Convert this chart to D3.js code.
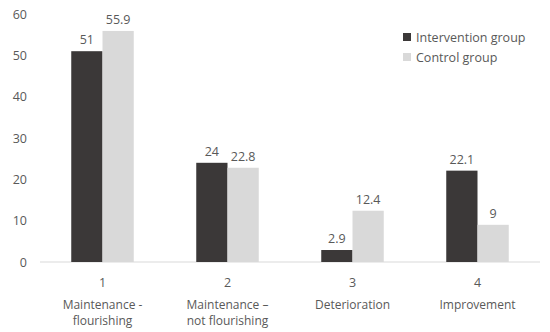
<!DOCTYPE html>
<html>
<head>
<meta charset="utf-8">
<script src="https://cdn.jsdelivr.net/npm/d3@7"></script>
<style>
  body { margin: 0; background: #fff; }
  text { font-family: "Open Sans", sans-serif; fill: #595959; }
</style>
</head>
<body>
<div id="chart"></div>
<script>
// Данные графика
const categories = ["1", "2", "3", "4"];
const categoryNames = [["Maintenance -", "flourishing"], ["Maintenance \u2013", "not flourishing"], ["Deterioration"], ["Improvement"]];
const seriesNames = ["Intervention group", "Control group"];
const intervention = [51, 24, 2.9, 22.1];
const control = [55.9, 22.8, 12.4, 9];
const yTicks = [0, 10, 20, 30, 40, 50, 60];

const width = 550, height = 332;
const colors = ["#3b3838", "#d9d9d9"];

const svg = d3.select("#chart").append("svg")
    .attr("width", width)
    .attr("height", height);

const x = d3.scaleBand()
    .domain(categories)
    .range([40, 540])
    .paddingInner(0)
    .paddingOuter(0);

const x1 = d3.scaleBand()
    .domain(seriesNames)
    .range([0, x.bandwidth()])
    .paddingInner(0)
    .paddingOuter(1);

const y = d3.scaleLinear()
    .domain([0, 60])
    .range([262, 14]);

// Подписи оси Y
svg.append("g")
    .selectAll("text")
    .data(yTicks)
    .enter().append("text")
    .attr("x", 27)
    .attr("y", d => y(d) + 4.5)
    .attr("text-anchor", "end")
    .style("font-size", "12.5px")
    .text(d => d);

// Базовая линия
svg.append("line")
    .attr("x1", 40).attr("x2", 540)
    .attr("y1", y(0)).attr("y2", y(0))
    .attr("stroke", "#d9d9d9")
    .attr("stroke-width", 1);

const rows = categories.map((c, i) => ({
    cat: c,
    values: [
        { s: seriesNames[0], v: intervention[i], c: colors[0] },
        { s: seriesNames[1], v: control[i], c: colors[1] }
    ]
}));

const groups = svg.append("g")
    .selectAll("g")
    .data(rows)
    .enter().append("g")
    .attr("transform", d => `translate(${x(d.cat)},0)`);

groups.selectAll("rect")
    .data(d => d.values)
    .enter().append("rect")
    .attr("x", d => x1(d.s))
    .attr("y", d => y(d.v))
    .attr("width", x1.bandwidth())
    .attr("height", d => y(0) - y(d.v))
    .attr("fill", d => d.c);

groups.selectAll("text.val")
    .data(d => d.values)
    .enter().append("text")
    .attr("class", "val")
    .attr("x", d => x1(d.s) + x1.bandwidth() / 2)
    .attr("y", d => y(d.v) - 7)
    .attr("text-anchor", "middle")
    .style("font-size", "12.5px")
    .text(d => d.v);

// Подписи категорий
svg.append("g")
    .selectAll("text")
    .data(categories)
    .enter().append("text")
    .attr("x", d => x(d) + x.bandwidth() / 2)
    .attr("y", 287)
    .attr("text-anchor", "middle")
    .style("font-size", "12.5px")
    .text(d => d);

const names = svg.append("g")
    .selectAll("text")
    .data(categories)
    .enter().append("text")
    .attr("x", d => x(d) + x.bandwidth() / 2)
    .attr("y", 309)
    .attr("text-anchor", "middle")
    .style("font-size", "12px");

names.selectAll("tspan")
    .data((d, i) => categoryNames[i])
    .enter().append("tspan")
    .attr("x", function() { return d3.select(this.parentNode).attr("x"); })
    .attr("dy", (d, i) => i === 0 ? 0 : 16)
    .text(d => d);

// Легенда
const legend = svg.append("g")
    .selectAll("g")
    .data(seriesNames)
    .enter().append("g")
    .attr("transform", (d, i) => `translate(403,${33 + i * 20})`);

legend.append("rect")
    .attr("width", 8)
    .attr("height", 8)
    .attr("fill", (d, i) => colors[i]);

legend.append("text")
    .attr("x", 13)
    .attr("y", 8.5)
    .style("font-size", "12.5px")
    .text(d => d);
</script>
</body>
</html>
